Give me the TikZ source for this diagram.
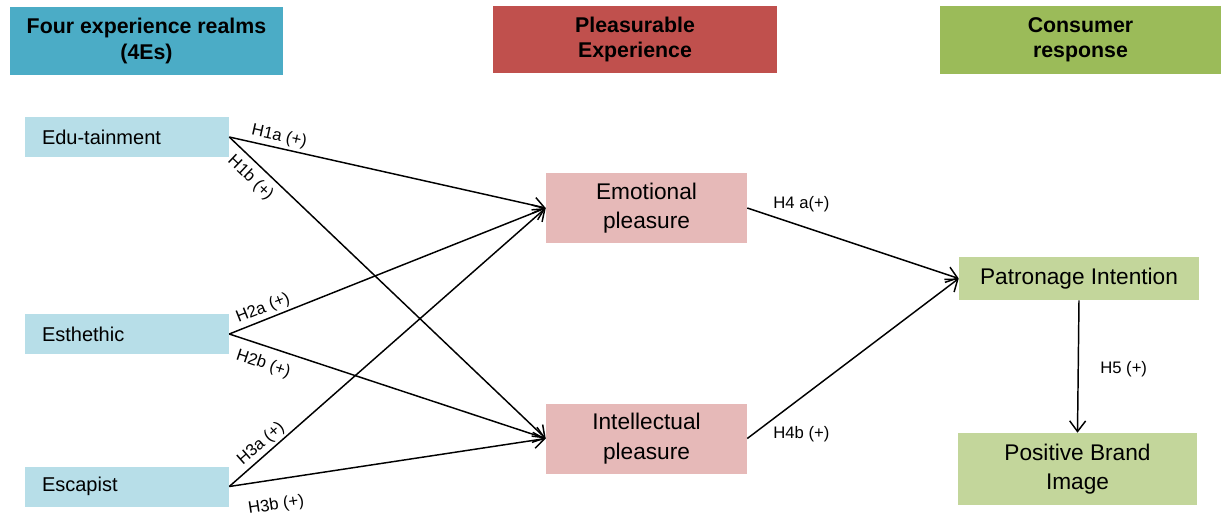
\documentclass[tikz,border=0pt]{standalone}
\usepackage{fontspec}
\setmainfont{Liberation Sans}
\usetikzlibrary{arrows.meta,positioning}
\definecolor{realmhead}{HTML}{4BACC6}
\definecolor{pleashead}{HTML}{C0504D}
\definecolor{resphead}{HTML}{9BBB59}
\definecolor{realmbox}{HTML}{B7DEE8}
\definecolor{pleasbox}{HTML}{E6B9B8}
\definecolor{respbox}{HTML}{C3D69B}

\begin{document}
\begin{tikzpicture}[x=0.75pt, y=-0.75pt,
  head/.style={align=center, inner sep=0pt, font=\bfseries\fontsize{16}{19}\selectfont},
  realm/.style={fill=realmbox, minimum height=30pt, text width=127.5pt, inner xsep=12.75pt,
    align=left, font=\fontsize{15}{18}\selectfont},
  pleas/.style={fill=pleasbox, minimum width=150.75pt, minimum height=52.5pt, align=center,
    inner sep=0pt, font=\fontsize{17}{22}\selectfont},
  resp/.style={fill=respbox, align=center, inner sep=0pt, font=\fontsize{17}{22}\selectfont},
  hyp/.style={font=\fontsize{12.5}{14}\selectfont, inner sep=2pt},
  arr/.style={-{Straight Barb[length=8pt, width=12pt]}, line width=1.1pt}]
\useasboundingbox (0,0) rectangle (1221,515);
% column headers
\node[head, fill=realmhead, minimum width=204.75pt, minimum height=51pt] (hrealm) at (146.5,41) {Four experience realms\\ (4Es)};
\node[head, fill=pleashead, minimum width=213pt, minimum height=50.25pt] (hpleas) at (635,39.5) {Pleasurable\\ Experience};
\node[head, fill=resphead, minimum width=210.75pt, minimum height=51pt] (hresp) at (1080.5,40) {Consumer\\ response};
% four realms
\node[realm] (edu) at (127,137) {Edu-tainment};
\node[realm] (est) at (127,334) {Esthethic};
\node[realm] (esc) at (127,486.5) {Escapist};
% pleasures
\node[pleas] (emo) at (646.5,208) {Emotional\\ pleasure};
\node[pleas] (int) at (646.5,438.5) {Intellectual\\ pleasure};
% responses
\node[resp, minimum width=180pt, minimum height=32.25pt] (pat) at (1079,278.5) {Patronage Intention};
\node[resp, minimum width=179.25pt, minimum height=54pt] (brand) at (1077.5,469) {Positive Brand\\ Image};
% hypotheses
\draw[arr] (edu.east) -- node[hyp, pos=0.15, above, sloped] {H1a (+)} (emo.west);
\draw[arr] (edu.east) -- node[hyp, pos=0.1, below=3pt, sloped] {H1b (+)} (int.west);
\draw[arr] (est.east) -- node[hyp, pos=0.12, above, sloped] {H2a (+)} (emo.west);
\draw[arr] (est.east) -- node[hyp, pos=0.125, below=5pt, sloped] {H2b (+)} (int.west);
\draw[arr] (esc.east) -- node[hyp, pos=0.124, above, sloped] {H3a (+)} (emo.west);
\draw[arr] (esc.east) -- node[hyp, pos=0.136, below=11pt, sloped] {H3b (+)} (int.west);
\draw[arr] (emo.east) -- node[hyp, pos=0, anchor=west, xshift=17pt, yshift=3pt] {H4 a(+)} (pat.west);
\draw[arr] (int.east) -- node[hyp, pos=0, anchor=west, xshift=17pt, yshift=3pt] {H4b (+)} (pat.west);
\draw[arr] (pat.south) -- node[hyp, pos=0.52, right=14pt] {H5 (+)} (brand.north);
\end{tikzpicture}
\end{document}
